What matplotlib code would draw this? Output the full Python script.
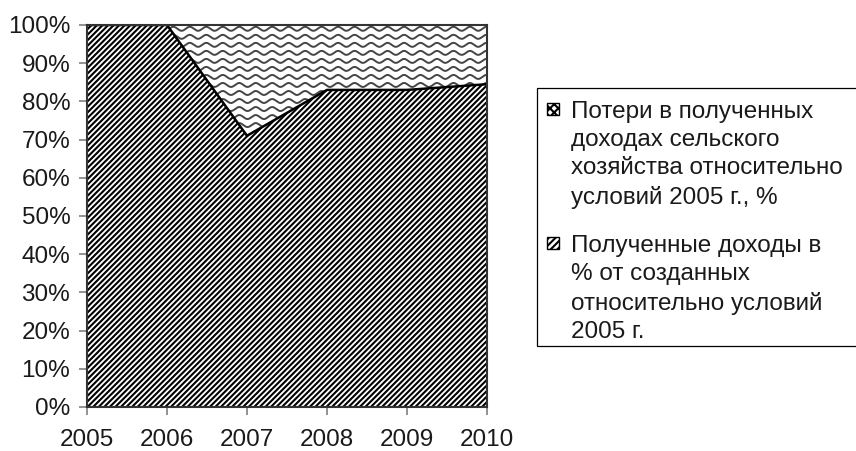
import numpy as np
import matplotlib.pyplot as plt
from matplotlib.patches import Rectangle

plt.rcParams['font.family'] = ['Liberation Sans', 'DejaVu Sans']
plt.rcParams['hatch.linewidth'] = 1.5

years = [2005, 2006, 2007, 2008, 2009, 2010]
received = [100, 100, 71, 83, 83, 84.5]   # % of created income
losses = [100 - v for v in received]      # losses vs 2005 conditions

label_losses = "Потери в полученных\nдоходах сельского\nхозяйства относительно\nусловий 2005 г., %"
label_received = "Полученные доходы в\n% от созданных\nотносительно условий\n2005 г."

W, H = 856, 451
fig = plt.figure(figsize=(W / 100, H / 100), dpi=100)
ax = fig.add_axes([0.1016, 0.0976, 0.4673, 0.847])

x = np.array(years)
low = np.array(received)
top = low + np.array(losses)

# lower area: dense diagonal hatch
ax.fill_between(x, 0, low, facecolor='white', edgecolor='black', hatch='//////', linewidth=0)
# upper area: wavy pattern drawn as clipped sine lines
upper = ax.fill_between(x, low, top, facecolor='white', edgecolor='none', linewidth=0)
xx = np.linspace(2005, 2010, 3000)
for y0 in np.arange(99.0, 60, -2.1):
    w = ax.plot(xx, y0 + 0.52 * np.sin(2 * np.pi * xx / 0.206), color='#454545', lw=1.4)[0]
    w.set_clip_path(upper.get_paths()[0], ax.transData)

ax.plot(x, low, color='black', lw=1.8)

ax.set_xlim(2005, 2010)
ax.set_ylim(0, 100)
ax.set_yticks(range(0, 101, 10))
ax.set_yticklabels([f"{v}%" for v in range(0, 101, 10)])
ax.set_xticks(years)
ax.set_xticklabels([str(y) for y in years])
ax.tick_params(axis='both', labelsize=17.5, color='#808080', length=6, width=1.2,
               labelcolor='#1a1a1a')
ax.tick_params(axis='x', pad=9.5)
ax.tick_params(axis='y', pad=6)
for s in ax.spines.values():
    s.set_color('#333333')
    s.set_linewidth(1.5)

# legend drawn by hand (box runs off the right edge, handles at first line)
def fx(px):
    return px / W

def fy(py):
    return 1 - py / H

fig.patches.append(Rectangle((fx(537), fy(346)), fx(400), (346 - 88) / H,
                             transform=fig.transFigure, facecolor='white',
                             edgecolor='black', lw=0.9))
entries = [(label_losses, 'xxxx', 103), (label_received, '/////', 237)]
for text, hatch, ytop in entries:
    fig.patches.append(Rectangle((fx(547), fy(ytop + 12)), fx(12), 12 / H,
                                 transform=fig.transFigure, facecolor='white',
                                 edgecolor='black', hatch=hatch, lw=1.0))
    fig.text(fx(571), fy(ytop - 2), text, fontsize=17.5, va='top', ha='left',
             linespacing=1.36, color='#1a1a1a')

fig.savefig('out.png', dpi=100)
